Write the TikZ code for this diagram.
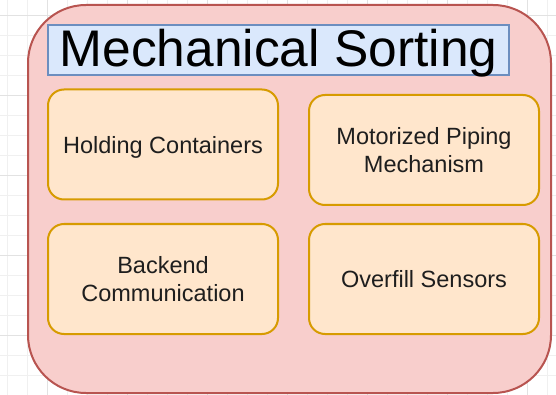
\documentclass[tikz,border=0pt]{standalone}
\usepackage{fontspec}
\setmainfont{Liberation Sans}
\definecolor{outerfill}{HTML}{F8CECC}
\definecolor{outerline}{HTML}{B85450}
\definecolor{titlefill}{HTML}{DAE8FC}
\definecolor{titleline}{HTML}{6C8EBF}
\definecolor{partfill}{HTML}{FFE6CC}
\definecolor{partline}{HTML}{D79B00}
\definecolor{gridminor}{HTML}{F0F0F0}
\definecolor{gridmajor}{HTML}{E2E2E2}
\definecolor{parttext}{HTML}{1E1E1E}
\tikzset{
  container/.style={draw=outerline, fill=outerfill, line width=2pt,
    rounded corners=58pt},
  titlebox/.style={draw=titleline, fill=titlefill, line width=1.6pt,
    minimum width=461pt, minimum height=50pt, inner sep=0pt,
    font=\fontsize{51.5}{56}\selectfont, text=black, text depth=3.5pt},
  partbox/.style={draw=partline, fill=partfill, line width=2pt,
    rounded corners=16pt, minimum width=230pt, minimum height=110pt,
    inner sep=0pt, align=center, text=parttext,
    font=\fontsize{23.5}{27.8}\selectfont},
}
\begin{document}
\begin{tikzpicture}[x=1pt, y=-1pt]
  \useasboundingbox (0,0) rectangle (556,395);
  \fill[white] (0,0) rectangle (556,395);
  % background grid, a major line every fourth step
  \foreach \k in {0,...,19} {
    \draw[gridminor, line width=0.8pt] (0,15+20*\k) -- (556,15+20*\k);
  }
  \foreach \k in {0,...,27} {
    \draw[gridminor, line width=0.8pt] (7+20*\k,0) -- (7+20*\k,395);
  }
  \foreach \y in {15,95,175,255,335} {
    \draw[gridmajor, line width=0.8pt] (0,\y) -- (556,\y);
  }
  \foreach \x in {47,127,207,287,367,447,527} {
    \draw[gridmajor, line width=0.8pt] (\x,0) -- (\x,395);
  }
  % outer group
  \draw[container] (28,5) rectangle (551,393);
  \coordinate (group) at (289.5,199);
  % heading
  \node[titlebox] (title) at (278.5,50) {Mechanical Sorting};
  % four parts
  \node[partbox, text depth=0pt] (holding) at (163,144.5) {Holding Containers};
  \node[partbox] (piping) at (424,150) {Motorized Piping\\Mechanism};
  \node[partbox] (backend) at (163,279) {Backend\\Communication};
  \node[partbox] (overfill) at (424,279) {Overfill Sensors};
\end{tikzpicture}
\end{document}
